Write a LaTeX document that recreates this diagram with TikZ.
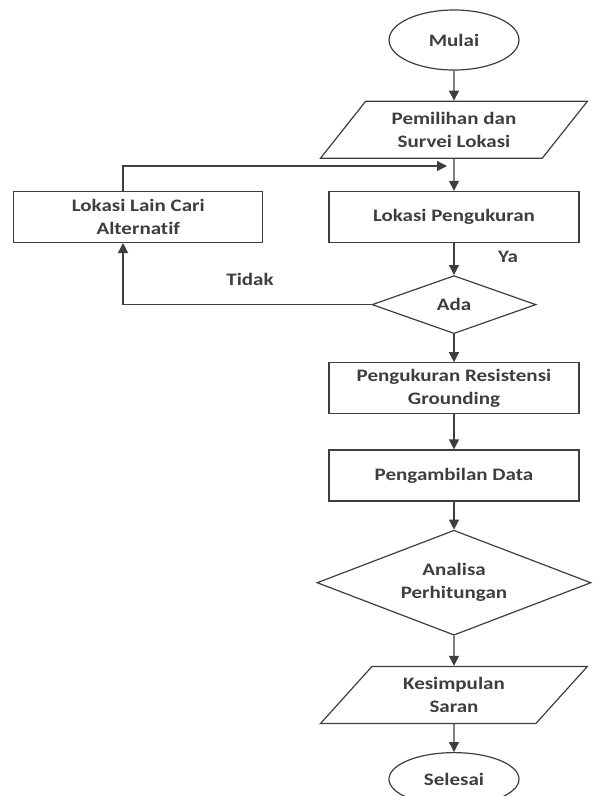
\documentclass[tikz,border=0pt]{standalone}
\usepackage{fontspec}
\setmainfont{Carlito}[Ligatures={NoCommon}, FakeStretch=1.2]
\usetikzlibrary{shapes.geometric, arrows.meta, positioning}
\definecolor{ink}{RGB}{62,62,62}

\begin{document}
\begin{tikzpicture}[x=1pt, y=-1pt, >={Triangle[length=10pt,width=10pt]},
  font=\fontsize{17.5}{23}\selectfont\bfseries, align=center,
  line width=1.2pt, color=ink,
  term/.style={draw, ellipse, minimum width=130pt, minimum height=60pt, inner sep=0pt},
  io/.style={draw, trapezium, trapezium left angle=48, trapezium right angle=132,
    trapezium stretches=true, minimum width=267pt, minimum height=57pt, inner sep=0pt},
  proc/.style={draw, rectangle, minimum width=250pt, minimum height=51pt, inner sep=0pt},
  decide/.style={draw, diamond, inner sep=0pt}]
  \useasboundingbox (0,0) rectangle (593,796);

  \node[term] (mulai) at (454,40) {Mulai};
  \node[io, below=30pt of mulai] (survei) {Pemilihan dan\\Survei Lokasi};
  \node[proc, below=32pt of survei] (lokasi) {Lokasi Pengukuran};
  \node[decide, minimum width=164pt, minimum height=58pt, below=32pt of lokasi] (ada) {Ada};
  \node[proc, below=28pt of ada] (ukur) {Pengukuran Resistensi\\Grounding};
  \node[proc, below=35pt of ukur] (ambil) {Pengambilan Data};
  \node[decide, aspect=2.6, minimum width=274pt, minimum height=105pt, below=28pt of ambil] (analisa) {Analisa\\Perhitungan};
  \node[io, below=30pt of analisa] (simpul) {Kesimpulan\\Saran};
  \node[term, minimum height=53pt, below=28pt of simpul] (selesai) {Selesai};

  \node[proc, minimum width=249pt, left=65pt of lokasi] (lain) {Lokasi Lain Cari\\Alternatif};

  \foreach \a/\b in {mulai/survei, survei/lokasi, lokasi/ada, ada/ukur,
    ukur/ambil, ambil/analisa, analisa/simpul, simpul/selesai}
    \draw[->] (\a) -- (\b);

  % jalur kembali
  \coordinate (lx) at (123,0);
  \coordinate (back) at (447,166);
  \draw[->] (ada.west) -- (ada.west -| lx) -- (lx |- lain.south);
  \draw[->] (lx |- lain.north) |- (back);

  \node (ya) at (508,257) {Ya};
  \node (tidak) at (250,279) {Tidak};
\end{tikzpicture}
\end{document}
